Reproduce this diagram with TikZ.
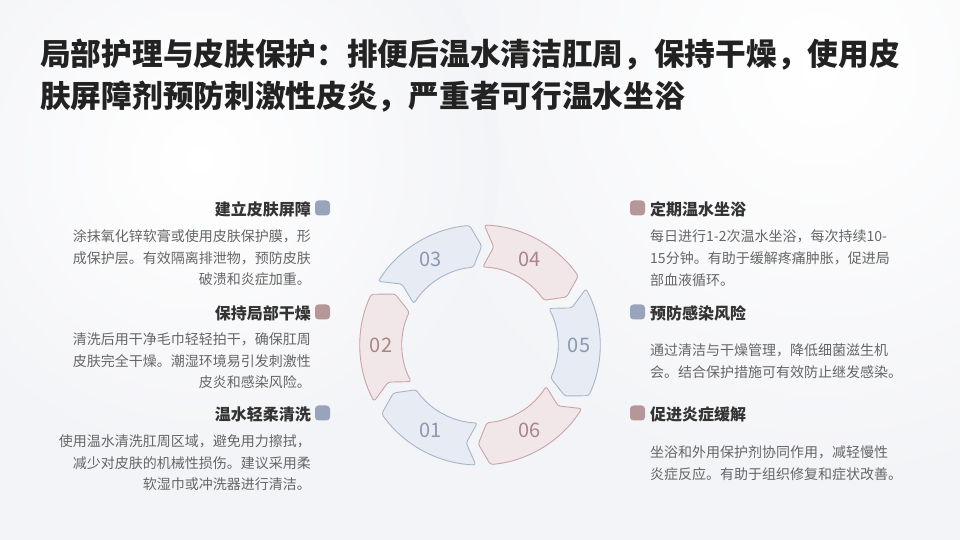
\documentclass[tikz,border=0pt]{standalone}
\usepackage{fontspec}
\setmainfont{Noto Sans CJK SC}
\definecolor{bgcol}{HTML}{F3F4F7}
\definecolor{titlecol}{HTML}{222222}
\definecolor{headcol}{HTML}{333333}
\definecolor{bodycol}{HTML}{666666}
\definecolor{bfill}{HTML}{E7ECF4}
\definecolor{bdraw}{HTML}{A8B4CA}
\definecolor{btext}{HTML}{8A98B0}
\definecolor{pfill}{HTML}{F2E7E8}
\definecolor{pdraw}{HTML}{C9A3A6}
\definecolor{ptext}{HTML}{A98587}
\definecolor{bmark}{HTML}{97A4BC}
\definecolor{pmark}{HTML}{B59799}
\tikzset{
  titleline/.style={font=\fontsize{30.7}{34}\selectfont\bfseries, text=titlecol, inner sep=0pt, anchor=west, text height=26pt, text depth=4.7pt},
  headline/.style={font=\fontsize{16}{18}\selectfont\bfseries, text=headcol, inner sep=0pt, text height=13.5pt, text depth=2.5pt},
  bodyline/.style={font=\fontsize{14}{16}\selectfont, text=bodycol, inner sep=0pt, text height=12pt, text depth=2pt},
  marker/.style={minimum size=15pt, inner sep=0pt, rounded corners=3.5pt},
  segline/.style={line width=0.9pt, rounded corners=2.5pt, line join=round},
  numlbl/.style={font=\fontsize{20}{22}\selectfont, inner sep=0pt},
}
\newcommand{\ringseg}[5]{%
  \draw[segline, fill=#2, draw=#3] (#1+28:120) arc[start angle=#1+28, end angle=#1-25, radius=120]
    -- (#1-31:99) -- (#1-25:78) arc[start angle=#1-25, end angle=#1+28, radius=78]
    -- (#1+22:99) -- cycle;
  \node[numlbl, text=#4] (n#5) at (#1:99) {#5};
}
\begin{document}
\begin{tikzpicture}[x=1pt,y=1pt]
\useasboundingbox (0,0) rectangle (960,540);
\begin{scope}
\clip (0,0) rectangle (960,540);
\fill[bgcol] (0,0) rectangle (960,540);
\shade[inner color=white, outer color=bgcol] (820,470) circle (420);
\shade[inner color=white, outer color=bgcol] (200,380) circle (300);
\end{scope}

% title
\node[titleline] (t1) at (40,485) {局部护理与皮肤保护：排便后温水清洁肛周，保持干燥，使用皮};
\node[titleline] (t2) at (40,443) {肤屏障剂预防刺激性皮炎，严重者可行温水坐浴};

% ring
\begin{scope}[shift={(480,195)}]
\ringseg{240}{bfill}{bdraw}{btext}{01}
\ringseg{180}{pfill}{pdraw}{ptext}{02}
\ringseg{120}{bfill}{bdraw}{btext}{03}
\ringseg{60}{pfill}{pdraw}{ptext}{04}
\ringseg{0}{bfill}{bdraw}{btext}{05}
\ringseg{300}{pfill}{pdraw}{ptext}{06}
\end{scope}

% left block 1
\node[marker, fill=bmark] (m1) at (322.5,332) {};
\node[headline, anchor=east] (h1) at (311,330) {建立皮肤屏障};
\node[bodyline, anchor=east] (b11) at (311,303) {涂抹氧化锌软膏或使用皮肤保护膜，形};
\node[bodyline, anchor=east] (b12) at (311,281.5) {成保护层。有效隔离排泄物，预防皮肤};
\node[bodyline, anchor=east] (b13) at (311,260) {破溃和炎症加重。};

% left block 2
\node[marker, fill=pmark] (m2) at (322.5,228) {};
\node[headline, anchor=east] (h2) at (311,226) {保持局部干燥};
\node[bodyline, anchor=east] (b21) at (311,200) {清洗后用干净毛巾轻轻拍干，确保肛周};
\node[bodyline, anchor=east] (b22) at (311,178) {皮肤完全干燥。潮湿环境易引发刺激性};
\node[bodyline, anchor=east] (b23) at (311,157) {皮炎和感染风险。};

% left block 3
\node[marker, fill=bmark] (m3) at (322.5,127) {};
\node[headline, anchor=east] (h3) at (311,125) {温水轻柔清洗};
\node[bodyline, anchor=east] (b31) at (311,98) {使用温水清洗肛周区域，避免用力擦拭，};
\node[bodyline, anchor=east] (b32) at (311,76) {减少对皮肤的机械性损伤。建议采用柔};
\node[bodyline, anchor=east] (b33) at (311,55) {软湿巾或冲洗器进行清洁。};

% right block 4
\node[marker, fill=pmark] (m4) at (637.5,332) {};
\node[headline, anchor=west] (h4) at (650,330) {定期温水坐浴};
\node[bodyline, anchor=west] (b41) at (650,303) {每日进行1-2次温水坐浴，每次持续10-};
\node[bodyline, anchor=west] (b42) at (650,281) {15分钟。有助于缓解疼痛肿胀，促进局};
\node[bodyline, anchor=west] (b43) at (650,259) {部血液循环。};

% right block 5
\node[marker, fill=bmark] (m5) at (637.5,228) {};
\node[headline, anchor=west] (h5) at (650,226) {预防感染风险};
\node[bodyline, anchor=west] (b51) at (650,189) {通过清洁与干燥管理，降低细菌滋生机};
\node[bodyline, anchor=west] (b52) at (650,167) {会。结合保护措施可有效防止继发感染。};

% right block 6
\node[marker, fill=pmark] (m6) at (637.5,127) {};
\node[headline, anchor=west] (h6) at (650,125) {促进炎症缓解};
\node[bodyline, anchor=west] (b61) at (650,87) {坐浴和外用保护剂协同作用，减轻慢性};
\node[bodyline, anchor=west] (b62) at (650,65) {炎症反应。有助于组织修复和症状改善。};
\end{tikzpicture}
\end{document}
